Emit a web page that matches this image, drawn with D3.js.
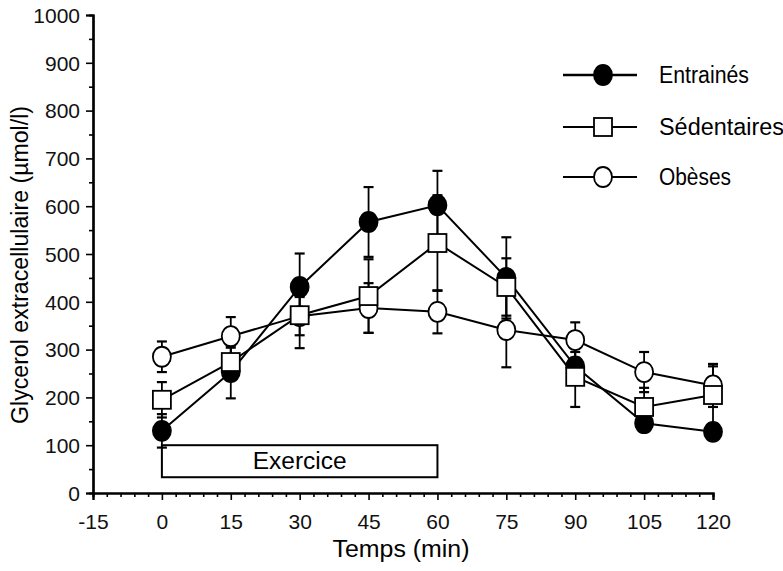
<!DOCTYPE html>
<html>
<head>
<meta charset="utf-8">
<script src="https://cdn.jsdelivr.net/npm/d3@7"></script>
<style>
  body { margin: 0; background: #fff; }
  svg { font-family: "Liberation Sans Narrow", "Liberation Sans", Arial, sans-serif; }
</style>
</head>
<body>
<svg></svg>
<script>
// Data
const times = [0, 15, 30, 45, 60, 75, 90, 105, 120]
const xTicks = [-15, 0, 15, 30, 45, 60, 75, 90, 105, 120]
const yTicks = [0, 100, 200, 300, 400, 500, 600, 700, 800, 900, 1000]

const entraines = [130, 253, 431, 567, 602, 450, 265, 146, 128]
const entrainesErr = [35, 55, 70, 73, 72, 85, 30, 15, 15]
const sedentaires = [195, 274, 372, 412, 523, 431, 243, 180, 205]
const sedentairesErr = [37, 30, 69, 77, 100, 60, 63, 40, 60]
const obeses = [285, 328, 370, 387, 379, 341, 320, 253, 225]
const obesesErr = [32, 40, 40, 52, 45, 78, 37, 42, 45]

const seriesNames = ['Entrainés', 'Sédentaires', 'Obèses']
const exercise = [0, 60]      // minutes
const exerciseLevel = [33, 100] // box bottom/top in y units

let width = 783
let height = 571
let font = '"Liberation Sans Narrow", "Liberation Sans", Arial, sans-serif'
let svg = d3.select('svg').attr('width', width).attr('height', height)

let xScale = d3.scaleLinear().domain([-15, 120]).range([93, 713])
let yScale = d3.scaleLinear().domain([0, 1000]).range([493, 15])

// Axes
let xAxis = d3.axisBottom(xScale).tickValues(xTicks).tickSize(7).tickPadding(12)
  .tickFormat(d => String(d))
let xMinor = d3.axisBottom(xScale).tickValues(d3.range(-15, 121, 3).filter(v => v % 15 !== 0)).tickSize(4).tickFormat('')
let gx = svg.append('g').attr('transform', 'translate(0,493)').call(xAxis)
svg.append('g').attr('transform', 'translate(0,493)').call(xMinor)

let yAxis = d3.axisLeft(yScale).tickValues(yTicks).tickSize(7).tickPadding(6)
  .tickFormat(d => String(d))
let yMinor = d3.axisLeft(yScale).tickValues(d3.range(50, 1000, 100)).tickSize(4).tickFormat('')
let gy = svg.append('g').attr('transform', 'translate(93,0)').call(yAxis)
svg.append('g').attr('transform', 'translate(93,0)').call(yMinor)

svg.selectAll('.domain').attr('stroke', '#000').attr('stroke-width', 2.2)
svg.selectAll('.tick line').attr('stroke', '#000').attr('stroke-width', 1.6)
svg.selectAll('.tick text').attr('font-size', 21).attr('fill', '#111')
  .attr('font-family', font)
gx.selectAll('.tick text').attr('dy', '0.8em')
gy.selectAll('.tick text').attr('dy', '0.35em')

// Axis titles
svg.append('text')
  .attr('x', 401).attr('y', 557)
  .attr('text-anchor', 'middle')
  .attr('font-size', 23)
  .attr('textLength', 137).attr('lengthAdjust', 'spacingAndGlyphs')
  .text('Temps (min)')

svg.append('text')
  .attr('transform', 'translate(28,265) rotate(-90)')
  .attr('text-anchor', 'middle')
  .attr('font-size', 23)
  .attr('textLength', 318).attr('lengthAdjust', 'spacingAndGlyphs')
  .text('Glycerol extracellulaire (µmol/l)')

// Exercise box
svg.append('rect')
  .attr('x', xScale(exercise[0]))
  .attr('y', yScale(exerciseLevel[1]))
  .attr('width', xScale(exercise[1]) - xScale(exercise[0]))
  .attr('height', yScale(exerciseLevel[0]) - yScale(exerciseLevel[1]))
  .attr('fill', '#fff').attr('stroke', '#000').attr('stroke-width', 2)
svg.append('text')
  .attr('x', xScale(30)).attr('y', yScale((exerciseLevel[0] + exerciseLevel[1]) / 2))
  .attr('dy', '0.35em')
  .attr('text-anchor', 'middle')
  .attr('font-size', 23)
  .attr('textLength', 94).attr('lengthAdjust', 'spacingAndGlyphs')
  .text('Exercice')

// Series
let series = [
  { name: seriesNames[0], values: entraines, err: entrainesErr, shape: 'dot' },
  { name: seriesNames[1], values: sedentaires, err: sedentairesErr, shape: 'square' },
  { name: seriesNames[2], values: obeses, err: obesesErr, shape: 'circle' }
]

let line = d3.line()
  .x((d, i) => xScale(times[i]))
  .y(d => yScale(d))

function drawMarker(g, shape, cx, cy) {
  if (shape === 'square') {
    g.append('rect').attr('x', cx - 9).attr('y', cy - 9).attr('width', 18).attr('height', 18)
      .attr('fill', '#fff').attr('stroke', '#000').attr('stroke-width', 1.8)
  } else {
    g.append('ellipse').attr('cx', cx).attr('cy', cy).attr('rx', 9).attr('ry', 10)
      .attr('fill', shape === 'dot' ? '#000' : '#fff')
      .attr('stroke', '#000').attr('stroke-width', 1.8)
  }
}

// error bars first
series.forEach(s => {
  let g = svg.append('g')
  s.values.forEach((v, i) => {
    let x = xScale(times[i])
    let y1 = yScale(v + s.err[i])
    let y2 = yScale(v - s.err[i])
    g.append('line').attr('x1', x).attr('x2', x).attr('y1', y1).attr('y2', y2)
      .attr('stroke', '#000').attr('stroke-width', 1.8)
    ;[y1, y2].forEach(yy => {
      g.append('line').attr('x1', x - 5).attr('x2', x + 5).attr('y1', yy).attr('y2', yy)
        .attr('stroke', '#000').attr('stroke-width', 2.2)
    })
  })
})

series.forEach(s => {
  svg.append('path').datum(s.values).attr('d', line)
    .attr('fill', 'none').attr('stroke', '#000').attr('stroke-width', 2)
})

// markers: filled circles underneath, squares on top
;[series[0], series[2], series[1]].forEach(s => {
  let g = svg.append('g')
  s.values.forEach((v, i) => drawMarker(g, s.shape, xScale(times[i]), yScale(v)))
})

// Legend
let legendY = [75, 127, 177]
let legendLen = [90, 125, 72]
series.forEach((s, i) => {
  let g = svg.append('g')
  g.append('line').attr('x1', 563).attr('x2', 637).attr('y1', legendY[i]).attr('y2', legendY[i])
    .attr('stroke', '#000').attr('stroke-width', i === 0 ? 2.6 : 2)
  drawMarker(g, s.shape, 603, legendY[i])
  g.append('text').attr('x', 659).attr('y', legendY[i]).attr('dy', '0.35em')
    .attr('font-size', 23).attr('textLength', legendLen[i]).attr('lengthAdjust', 'spacingAndGlyphs')
    .text(s.name)
})
</script>
</body>
</html>
